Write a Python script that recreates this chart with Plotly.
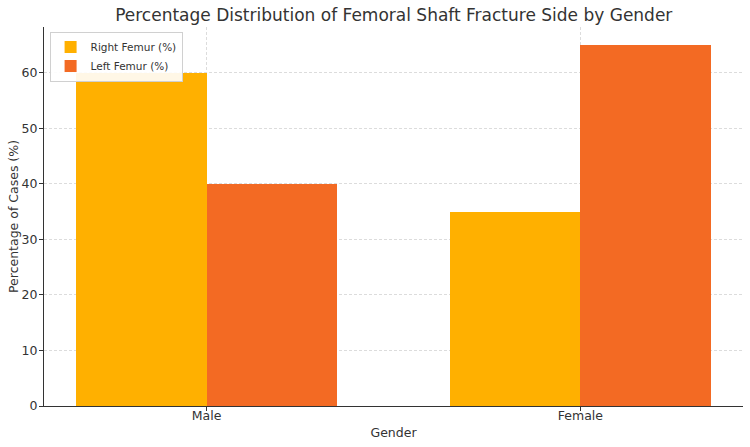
import plotly.graph_objects as go

categories = ["Male", "Female"]
right_femur = [60, 35]
left_femur = [40, 65]
series_names = ["Right Femur (%)", "Left Femur (%)"]
colors = ["#FFB000", "#F36A23"]
yticks = [0, 10, 20, 30, 40, 50, 60]

xpos = list(range(len(categories)))
w = 0.35

fig = go.Figure()
fig.add_trace(go.Bar(x=xpos, y=right_femur, name=series_names[0], marker_color=colors[0],
                     width=w, offset=-w, marker_line_width=0))
fig.add_trace(go.Bar(x=xpos, y=left_femur, name=series_names[1], marker_color=colors[1],
                     width=w, offset=0, marker_line_width=0))

fig.update_layout(
    width=750, height=447,
    margin=dict(l=44, r=7, t=27, b=41, autoexpand=False),
    paper_bgcolor="white", plot_bgcolor="white",
    font=dict(family="DejaVu Sans", color="#333333", size=12),
    title=dict(text="Percentage Distribution of Femoral Shaft Fracture Side by Gender",
               x=0.525, xanchor="center", y=0.967, yanchor="middle",
               font=dict(size=17, color="#333333")),
    legend=dict(x=0.008, y=0.988, xanchor="left", yanchor="top",
                bgcolor="rgba(255,255,255,0.9)", bordercolor="#d0d0d0", borderwidth=1,
                font=dict(size=10.5, color="#333333"), tracegroupgap=0,
                itemwidth=30),
    bargap=0, showlegend=True,
)
fig.update_xaxes(
    range=[-0.435, 1.435], tickvals=xpos, ticktext=categories,
    showgrid=True, gridcolor="#dcdcdc", griddash="3px,2px", gridwidth=0.8,
    showline=True, linecolor="#333333", linewidth=1,
    ticks="outside", ticklen=4, tickcolor="#333333",
    tickfont=dict(size=12.5, color="#333333"), automargin=False,
    ticklabelstandoff=-6,
    title=dict(text="Gender", font=dict(size=12.5, color="#333333"), standoff=6),
    zeroline=False,
)
fig.update_yaxes(
    range=[0, 68.25], tickvals=yticks,
    showgrid=True, gridcolor="#dcdcdc", griddash="3px,2px", gridwidth=0.8,
    showline=True, linecolor="#333333", linewidth=1,
    ticks="outside", ticklen=4, tickcolor="#333333",
    tickfont=dict(size=12.5, color="#333333"), automargin=False,
    ticklabelstandoff=-1,
    title=dict(text="Percentage of Cases (%)", font=dict(size=12.5, color="#333333"), standoff=0),
    zeroline=False,
)

fig.write_html("out.html")
